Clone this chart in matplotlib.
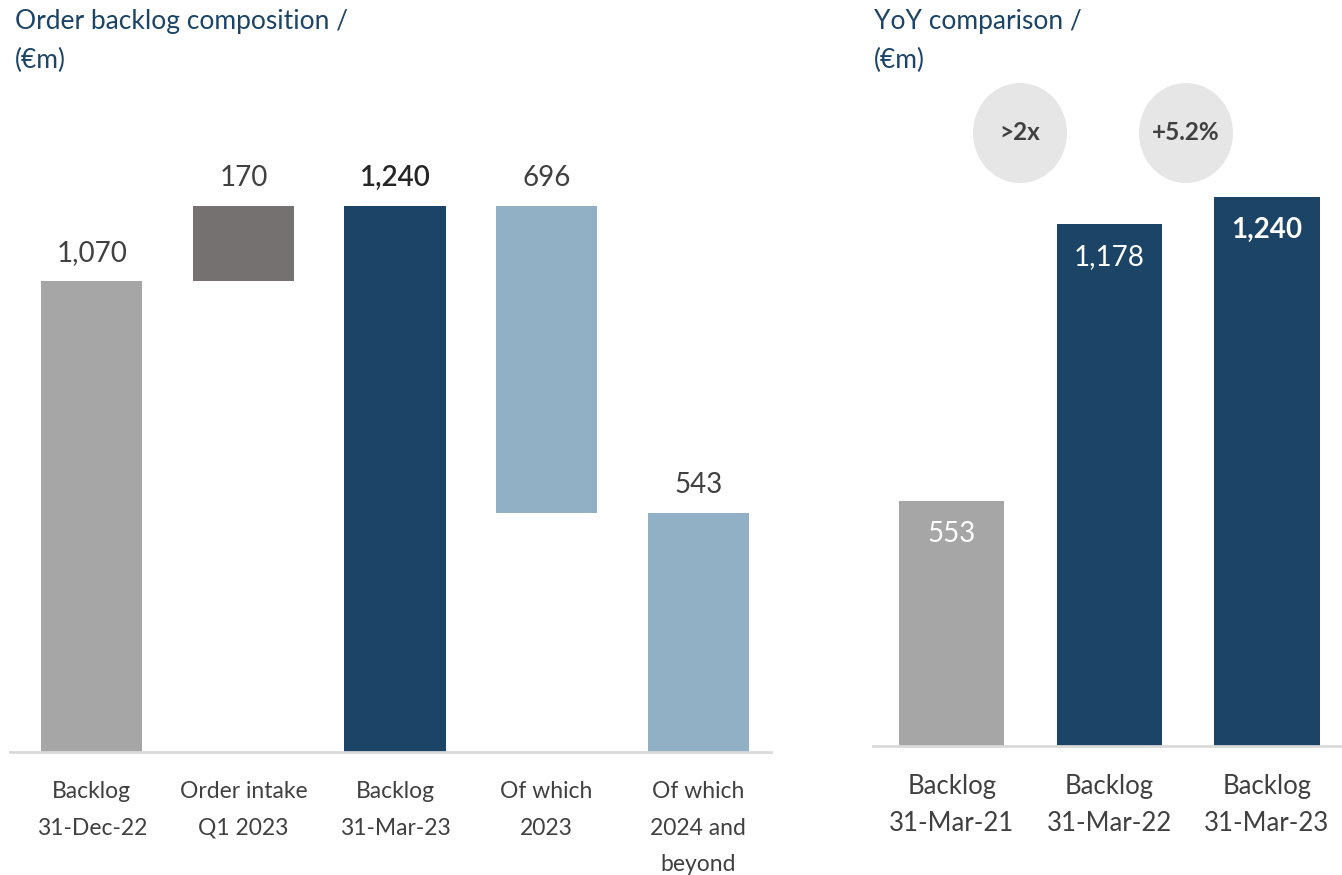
import matplotlib
matplotlib.use('Agg')
import matplotlib.pyplot as plt
from matplotlib import font_manager
from matplotlib.patches import Ellipse

# data
wf_labels = ['Backlog\n31-Dec-22', 'Order intake\nQ1 2023', 'Backlog\n31-Mar-23',
             'Of which\n2023', 'Of which\n2024 and\nbeyond']
wf_values = [1070, 170, 1240, 696, 543]
wf_bottoms = [0, 1070, 0, 1240 - 696, 0]
wf_text = ['1,070', '170', '1,240', '696', '543']

yoy_labels = ['Backlog\n31-Mar-21', 'Backlog\n31-Mar-22', 'Backlog\n31-Mar-23']
yoy_values = [553, 1178, 1240]
yoy_text = ['553', '1,178', '1,240']
growth_text = ['>2x', '+5.2%']

GREY = '#A6A6A6'
DARKGREY = '#767171'
NAVY = '#1B4467'
LIGHT = '#91AFC5'
TXT = '#404040'
TITLE = '#1B4467'

names = {f.name for f in font_manager.fontManager.ttflist}
main_font = 'Lato' if 'Lato' in names else 'DejaVu Sans'
plt.rcParams['font.family'] = [main_font, 'DejaVu Sans']

W, H = 1342, 875
fig = plt.figure(figsize=(W / 100, H / 100), dpi=100)

def box(x0, x1, ytop, ybot):
    return [x0 / W, 1 - ybot / H, (x1 - x0) / W, (ybot - ytop) / H]

# left: waterfall
ax1 = fig.add_axes(box(10, 771, 100, 752))
colors1 = [GREY, DARKGREY, NAVY, LIGHT, LIGHT]
x1 = list(range(len(wf_values)))
ax1.bar(x1, wf_values, bottom=wf_bottoms, width=0.667, color=colors1)
for i, (v, b, t) in enumerate(zip(wf_values, wf_bottoms, wf_text)):
    bold = (i == 2)
    ax1.annotate(t, (i, v + b), xytext=(0, 11), textcoords='offset points',
                 ha='center', va='bottom', fontsize=20, color='#262626' if bold else TXT,
                 fontweight='semibold' if bold else 'normal')
ax1.set_xlim(-0.54, 4.48)
ax1.set_ylim(0, 1481)
ax1.set_xticks(x1)
ax1.set_xticklabels(wf_labels, fontsize=16.5, color=TXT, linespacing=1.92, va='top')
ax1.tick_params(axis='x', length=0, pad=21)
ax1.set_yticks([])
for s in ['top', 'right', 'left']:
    ax1.spines[s].set_visible(False)
ax1.spines['bottom'].set_color('#D9D9D9')
ax1.spines['bottom'].set_linewidth(2)

# right: yoy
ax2 = fig.add_axes(box(873, 1342, 100, 746))
colors2 = [GREY, NAVY, NAVY]
x2 = list(range(len(yoy_values)))
ax2.bar(x2, yoy_values, width=0.667, color=colors2)
for i, (v, t) in enumerate(zip(yoy_values, yoy_text)):
    bold = (i == 2)
    ax2.annotate(t, (i, v), xytext=(0, -24), textcoords='offset points',
                 ha='center', va='center', fontsize=20, color='white',
                 fontweight='bold' if bold else 'normal')
ax2.set_xlim(-0.50, 2.476)
ax2.set_ylim(0, 1458)
ax2.set_xticks(x2)
ax2.set_xticklabels(yoy_labels, fontsize=18.5, color=TXT, linespacing=1.6, va='top')
ax2.tick_params(axis='x', length=0, pad=20)
ax2.set_yticks([])
for s in ['top', 'right', 'left']:
    ax2.spines[s].set_visible(False)
ax2.spines['bottom'].set_color('#D9D9D9')
ax2.spines['bottom'].set_linewidth(2)

# growth bubbles
for cx, t in zip([1020, 1186], growth_text):
    fig.add_artist(Ellipse((cx / W, 1 - 133 / H), 94 / W, 100 / H,
                           transform=fig.transFigure, color='#E6E6E6', lw=0))
    fig.text(cx / W, 1 - 133 / H, t, ha='center', va='center', fontsize=17.5,
             fontweight='bold', color=TXT)

# titles
for xt, t in [(15, 'Order backlog composition /'), (874, 'YoY comparison /')]:
    fig.text(xt / W, 1 - 22 / H, t, fontsize=19, color=TITLE, va='center', ha='left')
    fig.text(xt / W, 1 - 60 / H, '(€m)', fontsize=19, color=TITLE, va='center', ha='left')

fig.savefig('out.png', dpi=100)
